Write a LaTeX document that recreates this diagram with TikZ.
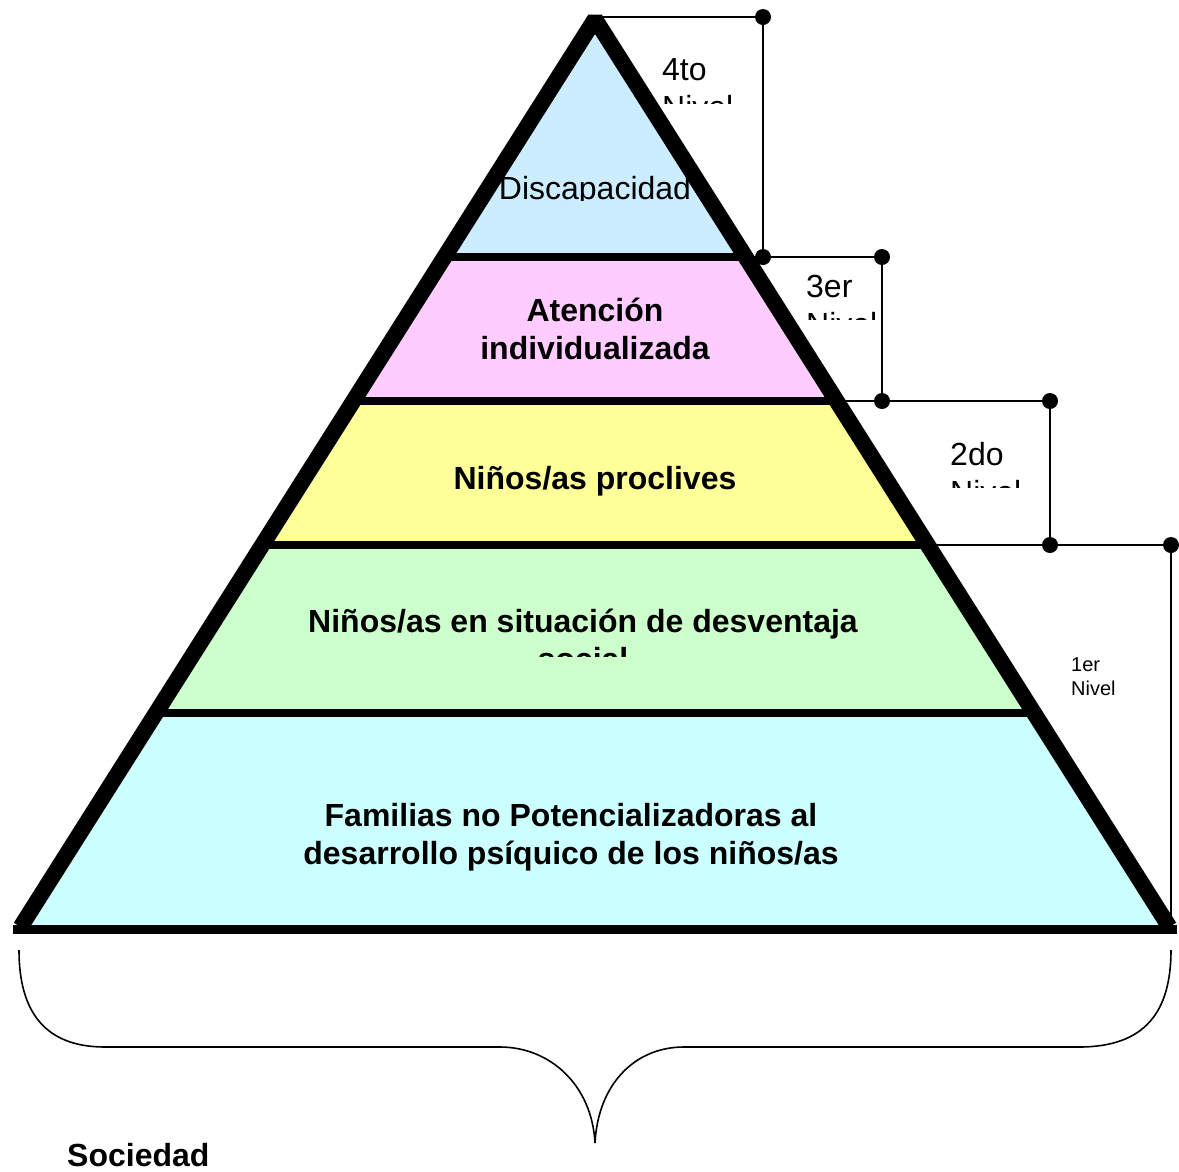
\documentclass[tikz,border=0pt]{standalone}
\usepackage{fontspec}
\setmainfont{Liberation Sans}
\definecolor{lvlfour}{HTML}{CCECFF}
\definecolor{lvlthree}{HTML}{FFCCFF}
\definecolor{lvltwo}{HTML}{FFFF99}
\definecolor{lvlone}{HTML}{CCFFCC}
\definecolor{lvlbase}{HTML}{CCFFFF}
\tikzset{
  thinline/.style={line width=1.6pt, black},
  dimdot/.style={circle, fill=black, inner sep=0pt, minimum size=16pt},
  divider/.style={line width=8pt, black},
  outline/.style={line width=16pt, black, line join=bevel},
  bigtext/.style={inner sep=0pt, font=\fontsize{32}{38}\selectfont},
  boldtext/.style={inner sep=0pt, font=\fontsize{32}{38}\selectfont\bfseries},
  smalltext/.style={inner sep=0pt, font=\fontsize{20}{24}\selectfont},
}
\begin{document}
\begin{tikzpicture}[x=1pt,y=-1pt]
\useasboundingbox (0,0) rectangle (1179,1171);
% pyramid geometry
\coordinate (apex) at (595,19);
\coordinate (bl) at (20.6,927);
\coordinate (br) at (1169.4,927);
\coordinate (l4) at (444.4,257);  \coordinate (r4) at (745.6,257);
\coordinate (l3) at (353.3,401);  \coordinate (r3) at (836.7,401);
\coordinate (l2) at (262.3,545);  \coordinate (r2) at (927.7,545);
\coordinate (l1) at (156.0,713);  \coordinate (r1) at (1034.0,713);
\coordinate (basel) at (13,929);  \coordinate (baser) at (1177,929);
% level brackets
\coordinate (top4) at (598,17);
\node[dimdot] (d4t) at (763,17) {};
\node[dimdot] (d4b) at (763,257) {};
\node[dimdot] (d3t) at (882,257) {};
\node[dimdot] (d3b) at (882,401) {};
\node[dimdot] (d2t) at (1050,401) {};
\node[dimdot] (d2b) at (1050,545) {};
\node[dimdot] (d1t) at (1171,545) {};
\coordinate (d1b) at (1171,927);
\draw[thinline] (top4) -- (d4t.center) -- (d4b.center);
\draw[thinline] (r4) -- (d3t.center) -- (d3b.center);
\draw[thinline] (r3) -- (d2t.center) -- (d2b.center);
\draw[thinline] (r2) -- (d1t.center) -- (d1b);
% fills
\begin{scope}
  \clip (apex) -- (bl) -- (br) -- cycle;
  \fill[lvlfour] (0,0) rectangle (1179,257);
  \fill[lvlthree] (0,257) rectangle (1179,401);
  \fill[lvltwo] (0,401) rectangle (1179,545);
  \fill[lvlone] (0,545) rectangle (1179,713);
  \fill[lvlbase] (0,713) rectangle (1179,927);
\end{scope}
% dividers
\draw[divider] (l4) -- (r4);
\draw[divider] (l3) -- (r3);
\draw[divider] (l2) -- (r2);
\draw[divider] (l1) -- (r1);
\draw[line width=9pt] (basel) -- (baser);
% outline
\draw[outline] (bl) -- (apex) -- (br);
% texts in the pyramid
\begin{scope}
  \clip (0,0) rectangle (1179,200.5);
  \node[bigtext, anchor=base] (disc) at (595,199.5) {Discapacidad};
\end{scope}
\node[boldtext, anchor=base] (aten1) at (595,321) {Atención};
\node[boldtext, anchor=base] (aten2) at (595,359) {individualizada};
\node[boldtext, anchor=base] (procl) at (595,489) {Niños/as proclives};
\node[boldtext, anchor=base] (desv1) at (583,632) {Niños/as en situación de desventaja};
\begin{scope}
  \clip (0,600) rectangle (1179,656);
  \node[boldtext, anchor=base] (desv2) at (583,670) {social};
\end{scope}
\node[boldtext, anchor=base] (fam1) at (571,826) {Familias no Potencializadoras al};
\node[boldtext, anchor=base] (fam2) at (571,864) {desarrollo psíquico de los niños/as};
% level labels
\node[bigtext, anchor=base west] (n4a) at (662,80) {4to};
\begin{scope}
  \clip (600,0) rectangle (731,103.5);
  \node[bigtext, anchor=base west] (n4b) at (662,118) {Nivel};
\end{scope}
\node[bigtext, anchor=base west] (n3a) at (806,297) {3er};
\begin{scope}
  \clip (780,260) rectangle (874,319.5);
  \node[bigtext, anchor=base west] (n3b) at (806,335) {Nivel};
\end{scope}
\node[bigtext, anchor=base west] (n2a) at (950,465) {2do};
\begin{scope}
  \clip (900,405) rectangle (1018,487.5);
  \node[bigtext, anchor=base west] (n2b) at (950,503) {Nivel};
\end{scope}
\node[smalltext, anchor=base west] (n1a) at (1071,671) {1er};
\node[smalltext, anchor=base west] (n1b) at (1071,695) {Nivel};
% brace
\coordinate (brl) at (19,950);
\coordinate (brr) at (1171,950);
\coordinate (brtip) at (595,1143);
\draw[thinline] (brl) .. controls (19,1012) and (45,1047) .. (105,1047) -- (500,1047)
   .. controls (550,1047) and (592,1085) .. (brtip);
\draw[thinline] (brr) .. controls (1171,1012) and (1145,1047) .. (1079,1047) -- (684,1047)
   .. controls (634,1047) and (598,1085) .. (brtip);
\node[boldtext, anchor=base west] (soc) at (67,1166) {Sociedad};
\end{tikzpicture}
\end{document}
